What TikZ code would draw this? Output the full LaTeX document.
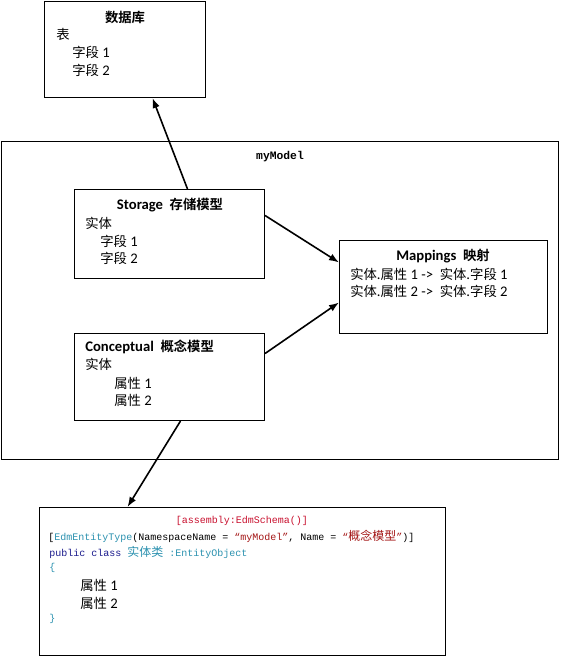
\documentclass[tikz,border=0pt]{standalone}
\usepackage{fontspec}
\usetikzlibrary{arrows.meta}
\setmainfont{Carlito}
\newfontfamily\cjk{Noto Sans CJK SC}[BoldFont={Noto Sans CJK SC Bold}]
\newfontfamily\codefont{Liberation Mono}
\newcommand{\zh}[1]{{\cjk\fontsize{10}{12}\selectfont #1}}
\newcommand{\zc}[1]{{\cjk\fontsize{9}{11}\selectfont #1}}
\definecolor{attrred}{HTML}{C8102E}
\definecolor{strred}{HTML}{A31515}
\definecolor{typeteal}{HTML}{2B91AF}
\definecolor{kwblue}{HTML}{1A1A8C}
\begin{document}
\begin{tikzpicture}[x=0.75pt,y=-0.75pt,
  box/.style={draw=black,line width=0.75pt,rectangle,inner sep=0pt,anchor=north west},
  txt/.style={anchor=west,inner sep=0pt,font=\fontsize{11}{13}\selectfont},
  ttl/.style={anchor=center,inner sep=0pt,font=\fontsize{11}{13}\selectfont\bfseries},
  code/.style={anchor=west,inner sep=0pt,font=\codefont\fontsize{7.5}{9}\selectfont},
  arr/.style={-{Latex[length=7.5pt,width=5.5pt]},line width=1.2pt}
]
\useasboundingbox (0,0) rectangle (560,656);
% boxes
\node[box,minimum width=120.75pt,minimum height=72pt] (db) at (44,1) {};
\node[box,minimum width=417.75pt,minimum height=238.5pt] (model) at (1,141) {};
\node[box,minimum width=142.5pt,minimum height=66.75pt] (storage) at (74,189) {};
\node[box,minimum width=156pt,minimum height=69.75pt] (map) at (339,240) {};
\node[box,minimum width=142.5pt,minimum height=65.25pt] (concept) at (74,333) {};
\node[box,minimum width=304.5pt,minimum height=111pt] (codebox) at (39,507) {};
% database texts
\node[ttl] (dbt) at (125,17) {\zh{\bfseries 数据库}};
\node[txt] (dbl1) at (56,34) {\zh{表}};
\node[txt] (dbl2) at (72,52) {\zh{字段} 1};
\node[txt] (dbl3) at (72,70) {\zh{字段} 2};
% model label
\node[inner sep=0pt,font=\codefont\bfseries\fontsize{8.5}{10}\selectfont] (modelt) at (280,157) {myModel};
% storage texts
\node[ttl] (stt) at (170,205) {Storage\ \ \zh{\bfseries 存储模型}};
\node[txt] (stl1) at (85,223) {\zh{实体}};
\node[txt] (stl2) at (100,241) {\zh{字段} 1};
\node[txt] (stl3) at (100,258) {\zh{字段} 2};
% mappings texts
\node[ttl] (mpt) at (443,256) {Mappings\ \ \zh{\bfseries 映射}};
\node[txt] (mpl1) at (350,274) {\zh{实体}.\zh{属性} 1 ->\ \ \zh{实体}.\zh{字段} 1};
\node[txt] (mpl2) at (350,291) {\zh{实体}.\zh{属性} 2 ->\ \ \zh{实体}.\zh{字段} 2};
% conceptual texts
\node[txt,font=\fontsize{11}{13}\selectfont\bfseries] (cpt) at (85,347) {Conceptual\ \ \zh{\bfseries 概念模型}};
\node[txt] (cpl1) at (85,364) {\zh{实体}};
\node[txt] (cpl2) at (114,383) {\zh{属性} 1};
\node[txt] (cpl3) at (114,400) {\zh{属性} 2};
% code texts
\node[code,anchor=center] (c1) at (242,521) {\textcolor{attrred}{[assembly:EdmSchema()]}};
\node[code] (c2) at (48,536) {[\textcolor{typeteal}{EdmEntityType}(NamespaceName = \textcolor{strred}{“myModel”}, Name = \textcolor{strred}{“\zc{概念模型}”})]};
\node[code] (c3) at (49,552) {\textcolor{kwblue}{public class} \textcolor{typeteal}{\zc{实体类} :EntityObject}};
\node[code] (c4) at (49,568) {\textcolor{typeteal}{\{}};
\node[txt] (c5) at (80,585) {\zh{属性} 1};
\node[txt] (c6) at (80,603) {\zh{属性} 2};
\node[code] (c7) at (49,619) {\textcolor{typeteal}{\}}};
% arrows
\draw[arr] ([xshift=13.5pt]storage.north) -- ([xshift=20.6pt]db.south);
\draw[arr] ([yshift=13.9pt]storage.east) -- ([yshift=18.4pt]map.west);
\draw[arr] ([yshift=17.6pt]concept.east) -- ([yshift=-11.6pt]map.west);
\draw[arr] ([xshift=8.25pt]concept.south) -- ([xshift=-86.25pt]codebox.north);
\end{tikzpicture}
\end{document}
